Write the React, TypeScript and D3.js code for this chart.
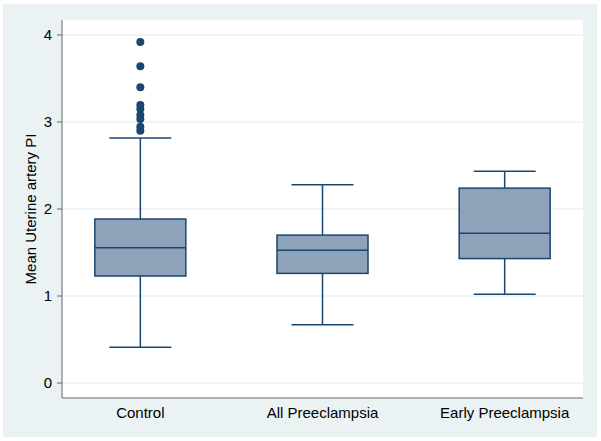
import React from "react";
import * as d3 from "d3";

const categories = ["Control", "All Preeclampsia", "Early Preeclampsia"];
const lowerWhisker = [0.41, 0.67, 1.02];
const q1 = [1.23, 1.26, 1.43];
const median = [1.555, 1.525, 1.72];
const q3 = [1.885, 1.70, 2.24];
const upperWhisker = [2.815, 2.28, 2.435];
const controlOutliers = [3.92, 3.64, 3.40, 3.195, 3.15, 3.08, 3.035, 2.945, 2.9];
const yTicks = [0, 1, 2, 3, 4];
const yLabel = "Mean Uterine artery PI";

const W = 601;
const H = 441;
const plot = { left: 62, right: 583, top: 20, bottom: 398 };
const navy = "#1a476f";
const boxFill = "#8ea2b9";
const bg = "#eaf2f3";
const font = "'Liberation Sans', Arial, Helvetica, sans-serif";

export default function App() {
  const y = d3.scaleLinear().domain([-0.172, 4.172]).range([plot.bottom, plot.top]);
  const x = d3
    .scalePoint<string>()
    .domain(categories)
    .range([plot.left, plot.right])
    .padding(0.43);
  const boxW = 91;
  const capW = 62;

  return (
    <svg
      width={W}
      height={H}
      style={{ position: "fixed", left: 0, top: 0, display: "block" }}
      fontFamily={font}
    >
      <rect x={0} y={0} width={W} height={H} fill="#ffffff" />
      <rect x={3} y={4} width={594} height={433} fill={bg} />
      <rect
        x={plot.left}
        y={plot.top}
        width={plot.right - plot.left}
        height={plot.bottom - plot.top}
        fill="#ffffff"
      />
      {yTicks.map((t) => (
        <g key={t}>
          <line
            x1={plot.left}
            x2={plot.right}
            y1={y(t)}
            y2={y(t)}
            stroke={bg}
            strokeWidth={1.5}
          />
          <line
            x1={plot.left - 5}
            x2={plot.left}
            y1={y(t)}
            y2={y(t)}
            stroke="#666"
            strokeWidth={1}
          />
          <text
            x={plot.left - 10}
            y={y(t)}
            dy="0.35em"
            textAnchor="end"
            fontSize={15}
            fill="#000"
          >
            {t}
          </text>
        </g>
      ))}
      <line
        x1={plot.left}
        x2={plot.left}
        y1={plot.top}
        y2={plot.bottom}
        stroke="#666"
        strokeWidth={1}
      />
      <line
        x1={plot.left}
        x2={plot.right}
        y1={plot.bottom}
        y2={plot.bottom}
        stroke="#666"
        strokeWidth={1}
      />
      <text
        transform={`translate(${31},${(plot.top + plot.bottom) / 2}) rotate(-90)`}
        textAnchor="middle"
        dy="0.35em"
        fontSize={15}
        fill="#000"
      >
        {yLabel}
      </text>
      {categories.map((c, i) => {
        const cx = x(c) as number;
        return (
          <g key={c}>
            <line x1={cx} x2={cx} y1={y(upperWhisker[i])} y2={y(q3[i])} stroke={navy} strokeWidth={1.5} />
            <line x1={cx} x2={cx} y1={y(q1[i])} y2={y(lowerWhisker[i])} stroke={navy} strokeWidth={1.5} />
            <line
              x1={cx - capW / 2}
              x2={cx + capW / 2}
              y1={y(upperWhisker[i])}
              y2={y(upperWhisker[i])}
              stroke={navy}
              strokeWidth={1.5}
            />
            <line
              x1={cx - capW / 2}
              x2={cx + capW / 2}
              y1={y(lowerWhisker[i])}
              y2={y(lowerWhisker[i])}
              stroke={navy}
              strokeWidth={1.5}
            />
            <rect
              x={cx - boxW / 2}
              y={y(q3[i])}
              width={boxW}
              height={y(q1[i]) - y(q3[i])}
              fill={boxFill}
              stroke={navy}
              strokeWidth={1.5}
            />
            <line
              x1={cx - boxW / 2}
              x2={cx + boxW / 2}
              y1={y(median[i])}
              y2={y(median[i])}
              stroke={navy}
              strokeWidth={1.5}
            />
            <text x={cx} y={418} textAnchor="middle" fontSize={15} fill="#000">
              {c}
            </text>
          </g>
        );
      })}
      {controlOutliers.map((v, i) => (
        <circle key={i} cx={x(categories[0]) as number} cy={y(v)} r={4} fill={navy} />
      ))}
    </svg>
  );
}
